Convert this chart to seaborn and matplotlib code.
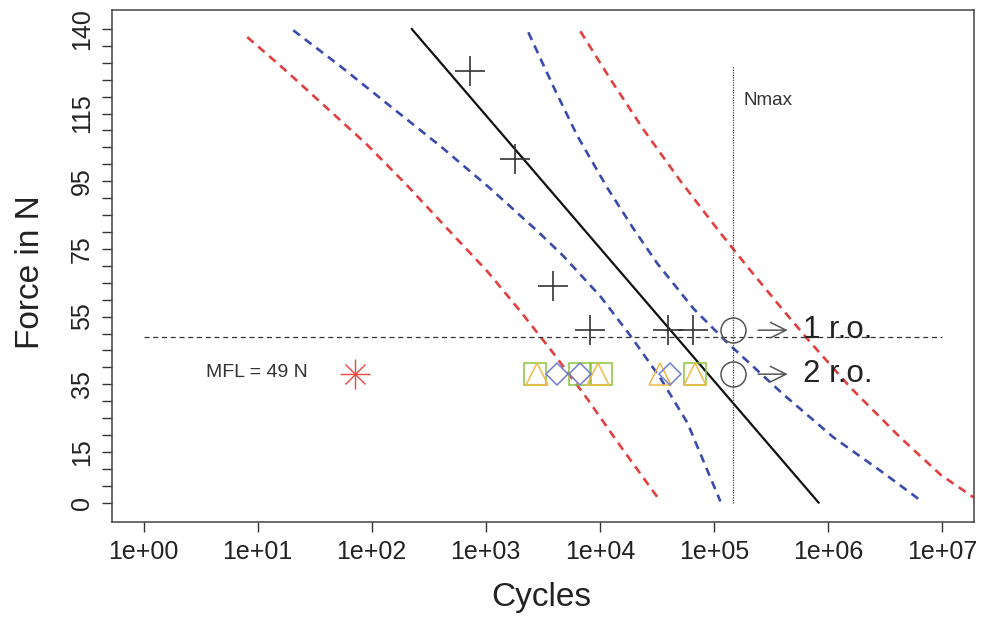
import numpy as np
import pandas as pd
import matplotlib
matplotlib.use('Agg')
import matplotlib.pyplot as plt
import seaborn as sns

# fitted S-N line (cycles, force)
fit_n = [224, 8.3e5]
fit_f = [140, 0]

# scatter bands
red_lo_n = [8.1, 16.7, 37.6, 91, 205, 459, 1030, 2010, 3910, 7760, 15100, 34000]
red_lo_f = [137.6, 128.4, 117.6, 105.8, 93.7, 81.0, 68.4, 56.6, 44.2, 30.7, 16.8, 0.4]
blue_lo_n = [20.5, 53, 145, 399, 1100, 2830, 4790, 10100, 18500, 34000, 58600, 114000]
blue_lo_f = [139.6, 129.0, 117.2, 105.4, 92.8, 80.3, 72.9, 61.0, 49.4, 36.8, 23.6, 0.4]
blue_hi_n = [2360, 3910, 6350, 11600, 19700, 31900, 66100, 131000, 407000, 1.12e6, 3.07e6, 6.47e6]
blue_hi_f = [139.0, 123.0, 108.4, 93.1, 81.0, 70.7, 57.4, 47.3, 32.0, 19.3, 8.8, 0.7]
red_hi_n = [6750, 12400, 24100, 50800, 114000, 197000, 407000, 701000, 1.57e6, 4.33e6, 9.7e6, 1.89e7]
red_hi_f = [139.3, 125.1, 110.3, 95.1, 79.7, 69.7, 56.8, 47.4, 34.1, 19.2, 8.3, 1.6]

# test results
test_n = [731, 1815, 3910, 8260, 39900, 66100]
test_f = [127.6, 101.5, 64.1, 51, 51, 51]
runout_n = [148000, 148000]
runout_f = [51, 38]
runout_labels = ['1 r.o.', '2 r.o.']

level_f = 38
square_n = [2720, 6750, 10300, 68900]
triangle_n = [2810, 9700, 34000, 68900]
diamond_n = [4220, 6750, 41500]
mfl_point_n = [71.7]

mfl = 49
nmax = 148000

x_ticks = [10.0 ** k for k in range(0, 8)]
x_labels = ['1e+%02d' % k for k in range(0, 8)]
y_ticks = list(range(0, 141, 5))
y_shown = [0, 15, 35, 55, 75, 95, 115, 140]

sns.set_theme(style='white')
plt.rcParams['font.family'] = ['Liberation Sans', 'DejaVu Sans']

fig = plt.figure(figsize=(9.84, 6.2), dpi=100)
ax = fig.add_axes([0.1135, 0.1585, 0.8763, 0.8254])
ax.set_xscale('log')

red = '#e2403f'
blue = '#3a4aae'

def band(n, f, color):
    sns.lineplot(x=n, y=f, ax=ax, color=color, lw=1.9, sort=False,
                 estimator=None, linestyle=(0, (3.2, 2.3)))

band(red_lo_n, red_lo_f, red)
band(blue_lo_n, blue_lo_f, blue)
band(blue_hi_n, blue_hi_f, blue)
band(red_hi_n, red_hi_f, red)
sns.lineplot(x=fit_n, y=fit_f, ax=ax, color='#111111', lw=1.6, sort=False, estimator=None)

# MFL horizontal and Nmax vertical
sns.lineplot(x=[1, 1e7], y=[mfl, mfl], ax=ax, color='#333333', lw=0.9,
             linestyle=(0, (4, 3)), estimator=None, sort=False)
sns.lineplot(x=[nmax, nmax], y=[0, 129], ax=ax, color='#444444', lw=0.9,
             linestyle=(0, (1, 1)), estimator=None, sort=False)
ax.text(nmax * 1.23, 119, 'Nmax', fontsize=13.5, color='#333333', ha='left', va='center')

def pts(n, f, marker, color, ms, mew=1.1):
    sns.lineplot(x=n, y=f, ax=ax, marker=marker, linestyle='none', markersize=ms,
                 markerfacecolor='none', markeredgecolor=color, markeredgewidth=mew,
                 color=color, estimator=None, sort=False)

pts(square_n, [level_f] * len(square_n), 's', '#8cc43c', 15.5)
pts(triangle_n, [level_f] * len(triangle_n), '^', '#f2b84a', 15.5)
pts(diamond_n, [level_f] * len(diamond_n), 'D', '#6f7fd0', 11.5)
pts(test_n, test_f, '+', '#333333', 22, 1.2)
pts(runout_n, runout_f, 'o', '#555555', 18, 1.1)
pts(mfl_point_n, [level_f], '+', '#e8473f', 21, 1.0)
pts(mfl_point_n, [level_f], 'x', '#e8473f', 15, 1.0)

ax.text(9.9, level_f + 0.6, 'MFL = 49 N', fontsize=14, color='#333333', ha='center', va='center')

for n, f, lab in zip(runout_n, runout_f, runout_labels):
    ax.annotate('', xy=(n * 3.17, f), xytext=(n * 1.56, f),
                arrowprops=dict(arrowstyle='->', color='#555555', lw=1.1, mutation_scale=28))
    ax.text(n * 4.05, f, lab, fontsize=22.5, color='#222222', ha='left', va='center')

ax.set_xlim(10 ** -0.28, 10 ** 7.28)
ax.set_ylim(-5.6, 145.6)
ax.set_xticks(x_ticks)
ax.set_xticklabels(x_labels)
ax.xaxis.set_minor_locator(matplotlib.ticker.NullLocator())
ax.set_yticks(y_ticks)
ax.set_yticklabels([str(v) if v in y_shown else '' for v in y_ticks], rotation=90, va='center')
ax.tick_params(axis='both', direction='out', length=7, width=1, color='#333333',
               labelsize=18, labelcolor='#222222', bottom=True, left=True)
ax.tick_params(axis='x', pad=6)
ax.tick_params(axis='y', pad=6)

for s in ax.spines.values():
    s.set_color('#444444')
    s.set_linewidth(1.1)

ax.set_xlabel('Cycles', fontsize=24, color='#222222')
ax.set_ylabel('Force in N', fontsize=24, color='#222222')
ax.xaxis.set_label_coords(0.498, -0.118)
ax.yaxis.set_label_coords(-0.076, 0.488)

fig.savefig('out.png', dpi=100)
